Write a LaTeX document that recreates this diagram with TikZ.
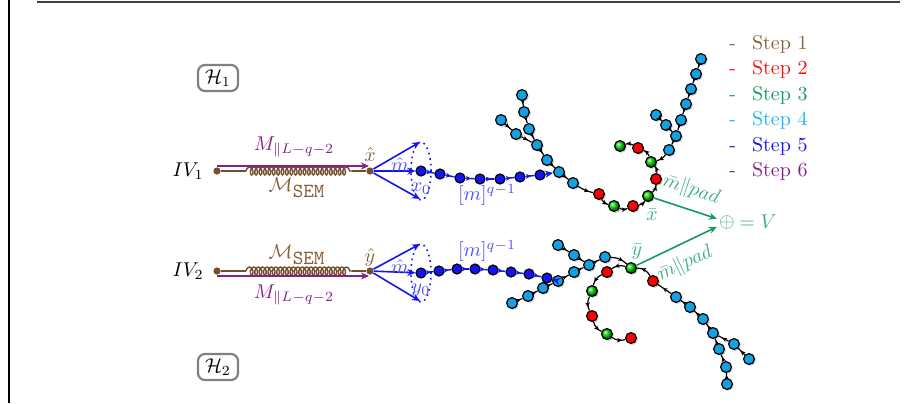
\documentclass[tikz,border=0pt]{standalone}
\usetikzlibrary{decorations.pathmorphing,decorations.markings,shadows,arrows.meta}
\definecolor{stepbrown}{RGB}{135,95,55}
\definecolor{springbrown}{RGB}{115,80,45}
\definecolor{stepred}{RGB}{245,15,15}
\definecolor{stepgreen}{RGB}{20,155,95}
\definecolor{lightgreen}{RGB}{60,175,125}
\definecolor{stepcyan}{RGB}{30,180,245}
\definecolor{stepblue}{RGB}{20,20,240}
\definecolor{lightblue}{RGB}{80,80,245}
\definecolor{steppurple}{RGB}{135,30,140}
\definecolor{nodecyan}{RGB}{20,160,225}
\newcommand{\tipglyph}{\tikz\fill[black] (0.9pt,0pt) -- (-1.5pt,1.15pt) -- (-0.9pt,0pt) -- (-1.5pt,-1.15pt) -- cycle;}
\begin{document}
\begin{tikzpicture}[x=0.5pt,y=-0.5pt,
  lb/.style={circle,draw=black,line width=0.6pt,fill=nodecyan,inner sep=0pt,minimum size=5.4pt,
    drop shadow={shadow xshift=0.7pt,shadow yshift=-0.7pt,opacity=0.45}},
  rd/.style={lb,fill=red},
  gn/.style={lb,ball color=green!85!black},
  db/.style={circle,draw=black,line width=0.6pt,fill=stepblue,inner sep=0pt,minimum size=5pt},
  bdot/.style={circle,fill=springbrown,inner sep=0pt,minimum size=3.6pt},
  ch/.style={draw=black,line width=0.6pt,postaction={decorate},
    decoration={markings,mark=at position 0.62 with {\arrow{Stealth[length=2.4pt,width=2.2pt]}}}},
  cc/.style={draw=black,line width=0.6pt},
  amk/.style={sloped,allow upside down,pos=0.6,inner sep=0pt,outer sep=0pt},
  bch/.style={draw=stepblue,line width=0.7pt,postaction={decorate},
    decoration={markings,mark=at position 0.62 with {\arrow{Stealth[length=2.6pt,width=2.4pt]}}}},
  spr/.style={draw=springbrown,line width=0.7pt},
  coilpart/.style={spr,decorate,decoration={coil,aspect=0.6,segment length=2.2pt,amplitude=2pt}},
  purarrow/.style={draw=steppurple,line width=0.8pt,-{Stealth[length=4pt,width=3.5pt]}},
  bluearrow/.style={draw=stepblue,line width=0.8pt,-{Stealth[length=4pt,width=3.5pt]}},
  grarrow/.style={draw=stepgreen,line width=0.8pt,-{Stealth[length=4pt,width=3.5pt]}},
  hbox/.style={draw=gray,line width=1.1pt,rounded corners=3.5pt,minimum width=20pt,minimum height=13pt,inner sep=2pt},
  leg/.style={anchor=west,inner sep=0pt}
]
\useasboundingbox (0,0) rectangle (920,403);
% frame fragments
\draw[line width=1pt] (8.5,0) -- (8.5,403);
\draw[black!75,line width=0.7pt] (37,2) -- (900,2);

% H boxes
\node[hbox] (h1) at (218,78) {$\mathcal{H}_1$};
\node[hbox] (h2) at (218,367) {$\mathcal{H}_2$};

% ---------- upper input ----------
\node (iv1) at (188,171) {$IV_1$};
\node[bdot] (p1) at (217,171) {};
\node[bdot] (xh) at (370,171) {};
\coordinate (s1a) at (246,171);
\coordinate (s1b) at (352,171);
\draw[spr] (p1) -- (s1a);
\draw[coilpart] (s1a) -- (s1b);
\draw[spr] (s1b) -- (xh);
\coordinate (pa1) at (217,166);
\coordinate (pb1) at (369,166);
\draw[purarrow] (pa1) -- (pb1);
\node[text=steppurple] (ml1) at (294,147) {$M_{\|L-q-2}$};
\node[text=stepbrown] (ms1) at (297,188) {$\mathcal{M}_{\texttt{SEM}}$};
\node[text=stepbrown] (xhl) at (370,155) {$\hat{x}$};

% blue cone upper
\node[db] (u1) at (421,171) {};
\coordinate (cu1) at (420,142);
\coordinate (cd1) at (420,199);
\draw[bluearrow] (xh) -- (cu1);
\draw[bluearrow] (xh) -- (cd1);
\draw[bluearrow] (xh) -- (u1);
\draw[stepblue,dotted,line width=0.8pt] (421,171) ellipse [x radius=5pt, y radius=14.5pt];
\node[text=lightblue] (mh1) at (400,165) {$\hat{m}$};
\node[text=lightblue] (x0) at (421,189) {$x_0$};

\node[db] (u2) at (440,174) {};
\node[db] (u3) at (460,178) {};
\node[db] (u4) at (480,179) {};
\node[db] (u5) at (500,179) {};
\node[db] (u6) at (520,177) {};
\node[db] (u7) at (540,175) {};
\draw[bch] (u1) -- (u2);
\draw[bch] (u2) -- (u3);
\draw[bch] (u3) -- (u4);
\draw[bch] (u4) -- (u5);
\draw[bch] (u5) -- (u6);
\draw[bch] (u6) -- (u7);
\node[text=lightblue] (mq1) at (487,195) {$[m]^{q-1}$};

% upper light blue and chain
\node[lb] (a1) at (559,172) {};
\node[lb] (a2) at (573,183) {};
\draw[bluearrow] (u7) -- (a1);
\node[lb] (b1) at (522,95) {};
\node[lb] (b2) at (524,112) {};
\node[lb] (b3) at (529,129) {};
\node[lb] (b4) at (537,145) {};
\node[lb] (b5) at (547,160) {};
\node[lb] (c1) at (501,120) {};
\node[lb] (c2) at (516,134) {};
\draw[ch] (b1) -- (b2);
\draw[ch] (b2) -- (b3);
\draw[ch] (b3) -- (b4);
\draw[ch] (b4) -- (b5);
\draw[ch] (b5) -- (a1);
\draw[ch] (c1) -- (c2);
\draw[ch] (c2) -- (b4);
\draw[ch] (a1) -- (a2);

\node[rd] (r1) at (599,194) {};
\node[gn] (g1) at (614,206) {};
\node[rd] (r2) at (633,206) {};
\node[gn] (g2) at (648,196) {};
\node[rd] (r3) at (656,179) {};
\node[gn] (g3) at (651,162) {};
\node[rd] (r4) at (638,148) {};
\node[gn] (g4) at (620,146) {};
\draw[cc] (a2) to[bend right=10] node[amk]{\tipglyph} (r1);
\draw[cc] (r1) to[bend right=25] node[amk]{\tipglyph} (g1);
\draw[cc] (g1) to[bend right=25] node[amk]{\tipglyph} (r2);
\draw[cc] (r2) to[bend right=25] node[amk]{\tipglyph} (g2);
\draw[cc] (g2) to[bend right=25] node[amk]{\tipglyph} (r3);
\draw[cc] (r3) to[bend right=25] node[amk]{\tipglyph} (g3);
\draw[cc] (g3) to[bend right=25] node[amk]{\tipglyph} (r4);
\draw[cc] (r4) to[bend right=25] node[amk]{\tipglyph} (g4);

\node[lb] (d1) at (701,59) {};
\node[lb] (d2) at (696,74) {};
\node[lb] (d3) at (691,89) {};
\node[lb] (d4) at (686,104) {};
\node[lb] (d5) at (681,120) {};
\node[lb] (d6) at (676,136) {};
\node[lb] (d7) at (669,150) {};
\node[lb] (e1) at (656,115) {};
\node[lb] (e2) at (666,125) {};
\draw[ch] (d1) -- (d2);
\draw[ch] (d2) -- (d3);
\draw[ch] (d3) -- (d4);
\draw[ch] (d4) -- (d5);
\draw[ch] (d5) -- (d6);
\draw[ch] (d6) -- (d7);
\draw[cc] (d7) to[bend left=20] node[amk]{\tipglyph} (g3);
\draw[ch] (e1) -- (e2);
\draw[ch] (e2) -- (d6);

% ---------- lower input ----------
\node (iv2) at (188,271) {$IV_2$};
\node[bdot] (p2) at (217,271) {};
\node[bdot] (yh) at (370,271) {};
\coordinate (s2a) at (246,271);
\coordinate (s2b) at (352,271);
\draw[spr] (p2) -- (s2a);
\draw[coilpart] (s2a) -- (s2b);
\draw[spr] (s2b) -- (yh);
\coordinate (pa2) at (217,276);
\coordinate (pb2) at (369,276);
\draw[purarrow] (pa2) -- (pb2);
\node[text=steppurple] (ml2) at (294,295) {$M_{\|L-q-2}$};
\node[text=stepbrown] (ms2) at (297,255) {$\mathcal{M}_{\texttt{SEM}}$};
\node[text=stepbrown] (yhl) at (370,257) {$\hat{y}$};

\node[db] (v1) at (421,273) {};
\coordinate (cu2) at (420,244);
\coordinate (cd2) at (420,301);
\draw[bluearrow] (yh) -- (cu2);
\draw[bluearrow] (yh) -- (cd2);
\draw[bluearrow] (yh) -- (v1);
\draw[stepblue,dotted,line width=0.8pt] (421,273) ellipse [x radius=5pt, y radius=14.5pt];
\node[text=lightblue] (mh2) at (400,267) {$\hat{m}$};
\node[text=lightblue] (y0) at (421,290) {$y_0$};

\node[db] (v2) at (439,271) {};
\node[db] (v3) at (457,269) {};
\node[db] (v4) at (475,269) {};
\node[db] (v5) at (493,270) {};
\node[db] (v6) at (511,272) {};
\node[db] (v7) at (529,274) {};
\node[db] (v8) at (547,278) {};
\draw[bch] (v1) -- (v2);
\draw[bch] (v2) -- (v3);
\draw[bch] (v3) -- (v4);
\draw[bch] (v4) -- (v5);
\draw[bch] (v5) -- (v6);
\draw[bch] (v6) -- (v7);
\draw[bch] (v7) -- (v8);
\node[text=lightblue] (mq2) at (487,251) {$[m]^{q-1}$};

\node[lb] (f1) at (558,281) {};
\node[lb] (f2) at (574,272) {};
\node[lb] (f3) at (589,265) {};
\node[lb] (f4) at (605,257) {};
\draw[bluearrow] (v8) -- (f1);
\node[lb] (hh1) at (558,245) {};
\node[lb] (hh2) at (574,255) {};
\node[lb] (k1) at (512,303) {};
\node[lb] (k2) at (528,296) {};
\node[lb] (k3) at (543,288) {};
\draw[ch] (f1) -- (f2);
\draw[ch] (f2) -- (f3);
\draw[ch] (f3) -- (f4);
\draw[ch] (hh1) -- (hh2);
\draw[ch] (hh2) -- (f3);
\draw[ch] (k1) -- (k2);
\draw[ch] (k2) -- (k3);
\draw[ch] (k3) -- (f1);

\node[gn] (G1) at (631,268) {};
\node[rd] (R1) at (607,272) {};
\node[gn] (G2) at (592,291) {};
\node[rd] (R2) at (592,316) {};
\node[gn] (G3) at (607,334) {};
\node[rd] (R3) at (631,338) {};
\node[rd] (R4) at (653,281) {};
\draw[cc] (f4) to[bend left=20] node[amk]{\tipglyph} (G1);
\draw[cc] (G1) to[bend right=25] node[amk]{\tipglyph} (R1);
\draw[cc] (R1) to[bend right=25] node[amk]{\tipglyph} (G2);
\draw[cc] (G2) to[bend right=25] node[amk]{\tipglyph} (R2);
\draw[cc] (R2) to[bend right=25] node[amk]{\tipglyph} (G3);
\draw[cc] (G3) to[bend right=25] node[amk]{\tipglyph} (R3);
\draw[cc] (R4) to[bend right=30] node[amk]{\tipglyph} (G1);

\node[lb] (m1) at (676,297) {};
\node[lb] (m2) at (690,307) {};
\node[lb] (m3) at (703,319) {};
\node[lb] (m4) at (713,333) {};
\node[lb] (m5) at (719,349) {};
\node[lb] (m6) at (726,367) {};
\node[lb] (m7) at (727,384) {};
\node[lb] (n1) at (734,344) {};
\node[lb] (n2) at (749,359) {};
\draw[ch] (m7) -- (m6);
\draw[ch] (m6) -- (m5);
\draw[ch] (m5) -- (m4);
\draw[ch] (m4) -- (m3);
\draw[ch] (m3) -- (m2);
\draw[ch] (m2) -- (m1);
\draw[ch] (m1) -- (R4);
\draw[ch] (n2) -- (n1);
\draw[ch] (n1) -- (m4);

% ---------- combination ----------
\node[text=lightgreen,inner sep=1pt] (op) at (727,222) {$\oplus$};
\node[text=lightgreen,anchor=west,inner sep=1pt] (eqv) at (737,222) {$=V$};
\draw[grarrow] (g2) -- (op) node[midway,sloped,above=1pt,text=lightgreen] {$\bar{m}\|pad$};
\draw[grarrow] (G1) -- (op) node[midway,sloped,below=1pt,text=lightgreen] {$\bar{m}\|pad$};
\node[text=lightgreen] (xbar) at (652,215) {$\bar{x}$};
\node[text=lightgreen] (ybar) at (637,252) {$\bar{y}$};

% ---------- legend ----------
\node[leg,text=stepbrown] (l1) at (729,44) {-\hspace{8pt}Step 1};
\node[leg,text=stepred] (l2) at (729,69) {-\hspace{8pt}Step 2};
\node[leg,text=stepgreen] (l3) at (729,95) {-\hspace{8pt}Step 3};
\node[leg,text=stepcyan] (l4) at (729,120) {-\hspace{8pt}Step 4};
\node[leg,text=stepblue] (l5) at (729,146) {-\hspace{8pt}Step 5};
\node[leg,text=steppurple] (l6) at (729,171) {-\hspace{8pt}Step 6};
\end{tikzpicture}
\end{document}
